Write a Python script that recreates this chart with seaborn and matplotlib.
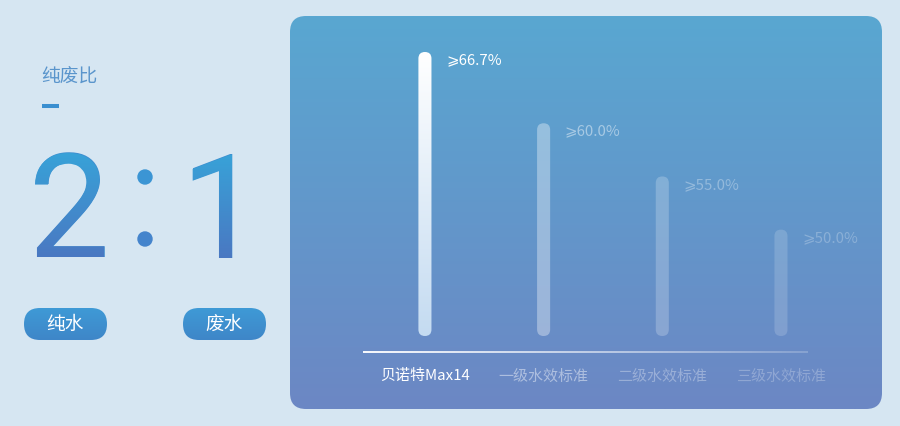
import numpy as np
import pandas as pd
import matplotlib
matplotlib.use("Agg")
import matplotlib.pyplot as plt
import seaborn as sns
from matplotlib.patches import FancyBboxPatch, PathPatch, Circle
from matplotlib.textpath import TextPath
from matplotlib.font_manager import FontProperties
from matplotlib.transforms import Affine2D
from matplotlib.colors import to_rgb

# chart data
categories = ["贝诺特Max14", "一级水效标准", "二级水效标准", "三级水效标准"]
rates = [66.7, 60.0, 55.0, 50.0]
rate_labels = ["⩾66.7%", "⩾60.0%", "⩾55.0%", "⩾50.0%"]

# left side ratio block
ratio_title = "纯废比"
ratio_parts = ["2", "1"]
pill_labels = ["纯水", "废水"]

# how strong each bar / label shows on the panel
bar_alpha = [1.0, 0.35, 0.22, 0.16]
text_alpha = [1.0, 0.45, 0.32, 0.25]

W, H = 900, 426
sns.set_theme(style="white")
plt.rcParams["font.family"] = ["Noto Sans CJK SC", "DejaVu Sans"]

fig = plt.figure(figsize=(W / 100, H / 100), dpi=100)
fig.patch.set_facecolor("#d6e6f2")

# pixel canvas for the decorations
bg = fig.add_axes([0, 0, 1, 1])
bg.axis("off")


def vgrad(x0, y0, x1, y1, c_top, c_bot, clip, alpha=1.0, z=1, horizontal=False):
    t = np.linspace(0, 1, 256)
    ct, cb = np.array(to_rgb(c_top)), np.array(to_rgb(c_bot))
    rgb = (1 - t)[:, None] * ct + t[:, None] * cb
    a = np.ones(256) * alpha if np.isscalar(alpha) else np.linspace(alpha[0], alpha[1], 256)
    img = np.concatenate([rgb, a[:, None]], axis=1)
    img = img[None, :, :] if horizontal else img[:, None, :]
    im = bg.imshow(img, extent=(x0, x1, y1, y0), aspect="auto", zorder=z,
                   interpolation="bilinear")
    if clip is not None:
        im.set_clip_path(clip)
    return im


def rounded(x0, y0, x1, y1, r, z=1):
    p = FancyBboxPatch((x0, y0), x1 - x0, y1 - y0,
                       boxstyle=f"round,pad=0,rounding_size={r}",
                       fc="none", ec="none", zorder=z)
    bg.add_patch(p)
    return p


# main panel
panel = rounded(290, 16, 882, 409, 16)
vgrad(290, 16, 882, 409, "#59a7d1", "#6c87c4", panel)

# bars through seaborn
ax = fig.add_axes([365.6 / W, (H - 336) / H, 474.7 / W, 284 / H])
df = pd.DataFrame({"category": categories, "rate": rates})
sns.barplot(data=df, x="category", y="rate", width=0.11, color="white", ax=ax)
ax.set_ylim(40, 66.7)
ax.set_xlim(-0.5, 3.5)
ax.set_facecolor("none")
for s in ax.spines.values():
    s.set_visible(False)
ax.set_yticks([])
ax.set_xlabel("")
ax.set_ylabel("")
ax.tick_params(axis="x", length=0, pad=24)
ax.set_xticks(range(len(categories)))
ax.set_xticklabels(categories, fontsize=10.8)
for lab, a in zip(ax.get_xticklabels(), text_alpha):
    lab.set_color("white")
    lab.set_alpha(a)

bg.set_xlim(0, W)
bg.set_ylim(H, 0)

to_px = ax.transData + bg.transData.inverted()
for i, p in enumerate(ax.patches[:len(rates)]):
    x, w, h = p.get_x(), p.get_width(), p.get_height()
    (px0, py0), (px1, py1) = to_px.transform([(x, h), (x + w, 40)])
    p.set_visible(False)
    r = (px1 - px0) / 2
    shape = rounded(px0, py0, px1, py1, r, z=3)
    if i == 0:
        vgrad(px0, py0, px1, py1, "#ffffff", "#c4dbf1", shape, z=3)
    else:
        shape.set_facecolor("white")
        shape.set_alpha(bar_alpha[i])
    ax.annotate(rate_labels[i], xy=(x + w, h), xytext=(10.5, -6),
                textcoords="offset points", ha="left", va="center",
                color="white", alpha=text_alpha[i], fontsize=10.8,
                annotation_clip=False)

# base line under the bars
line_clip = rounded(363, 351, 808, 353, 0, z=2)
vgrad(363, 351, 808, 353, "#ffffff", "#ffffff", line_clip, alpha=(0.95, 0.2),
      z=2, horizontal=True)

# left block
bg.text(41, 77, ratio_title, ha="left", va="center", fontsize=13.5, color="#5a95cc")
bg.plot([42, 59], [106, 106], lw=2.9, color="#3a8fd0", solid_capstyle="butt")

# big digits: real text, with a gradient fill laid over the same outline
digit_family = "Roboto"
probe = TextPath((0, 0), "2", size=100, prop=FontProperties(family=digit_family))
fs_px = 100 * 104 / probe.get_extents().height
big_font = FontProperties(family=digit_family, weight="normal", size=fs_px * 72 / 100)


def big_digit(ch, y_base, left=None, right=None):
    tp = TextPath((0, 0), ch, size=fs_px, prop=big_font)
    ext = tp.get_extents()
    x = left - ext.x0 if left is not None else right - ext.x1
    bg.text(x, y_base, ch, fontproperties=big_font, color="#3f8fd0",
            ha="left", va="baseline", zorder=2)
    path = Affine2D().scale(1, -1).translate(x, y_base).transform_path(tp)
    patch = PathPatch(path, fc="none", ec="none", zorder=2)
    bg.add_patch(patch)
    e = path.get_extents()
    vgrad(e.x0 - 2, e.y0, e.x1 + 2, e.y1, "#38a2d8", "#4a78c2", patch, z=2.5)


big_digit(ratio_parts[0], 257, left=35)
big_digit(ratio_parts[1], 258, right=232)
bg.add_patch(Circle((145, 177), 7, color="#3b95d4", zorder=2))
bg.add_patch(Circle((145, 239), 7, color="#4484cc", zorder=2))

for (x0, x1), lab in zip([(24, 107), (183, 266)], pill_labels):
    pill = rounded(x0, 308, x1, 340, 16, z=2)
    vgrad(x0, 308, x1, 340, "#3e9ad6", "#3f86c8", pill, z=2)
    bg.text((x0 + x1) / 2, 324.5, lab, ha="center", va="center",
            fontsize=13.5, color="white", zorder=3)

bg.set_xlim(0, W)
bg.set_ylim(H, 0)

fig.savefig("out.png", dpi=100, facecolor=fig.get_facecolor())
